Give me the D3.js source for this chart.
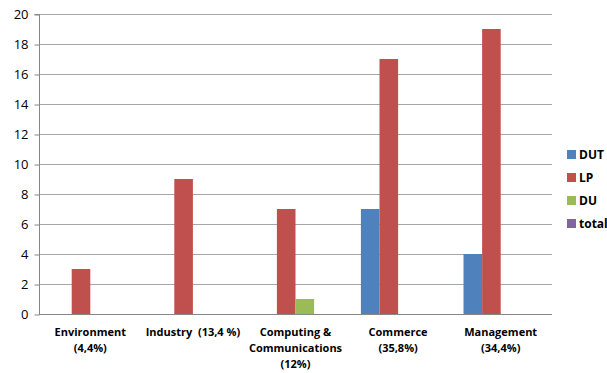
<!DOCTYPE html>
<html>
<head>
<meta charset="utf-8">
<script src="https://cdn.jsdelivr.net/npm/d3@7"></script>
<style>
  body { margin: 0; background: #fff; }
  text { font-family: "Open Sans", "Liberation Sans", sans-serif; white-space: pre; }
</style>
</head>
<body>
<svg id="chart" width="607" height="373"></svg>
<script>
// Chart data
var categories = [
	["Environment", "(4,4%)"],
	["Industry  (13,4 %)"],
	["Computing &", "Communications", "(12%)"],
	["Commerce", "(35,8%)"],
	["Management", "(34,4%)"]
];
var seriesNames = ["DUT", "LP", "DU", "total"];
var seriesColors = ["#4F81BD", "#C0504D", "#9BBB59", "#8064A2"];
var dutValues = [0, 0, 0, 7, 4];
var lpValues = [3, 9, 7, 17, 19];
var duValues = [0, 0, 1, 0, 0];
var totalValues = [0, 0, 0, 0, 0];
var yTicks = [0, 2, 4, 6, 8, 10, 12, 14, 16, 18, 20];

var seriesValues = [dutValues, lpValues, duValues, totalValues];

var svg = d3.select("#chart");
var plotLeft = 39, plotRight = 552, plotTop = 14, plotBottom = 314;

var x = d3.scaleBand()
	.domain(d3.range(categories.length))
	.range([plotLeft, plotRight])
	.paddingInner(0.275)
	.paddingOuter(0.1375);

var xs = d3.scaleBand()
	.domain(seriesNames)
	.range([0, x.bandwidth()]);

var y = d3.scaleLinear().domain([0, 20]).range([plotBottom, plotTop]);

// Gridlines
svg.append("g").selectAll("line")
	.data(yTicks.slice(1))
	.enter().append("line")
	.attr("x1", plotLeft).attr("x2", plotRight)
	.attr("y1", function(d) { return y(d) + 0.5; })
	.attr("y2", function(d) { return y(d) + 0.5; })
	.attr("stroke", "#a6a6a6")
	.attr("stroke-width", 1);

// Bars
seriesNames.forEach(function(name, s) {
	svg.append("g").selectAll("rect")
		.data(seriesValues[s].map(function(v, i) { return { v: v, i: i }; }).filter(function(d) { return d.v > 0; }))
		.enter().append("rect")
		.attr("x", function(d) { return x(d.i) + xs(name); })
		.attr("width", xs.bandwidth())
		.attr("y", function(d) { return y(d.v); })
		.attr("height", function(d) { return y(0) - y(d.v); })
		.attr("fill", seriesColors[s]);
});

// Y axis
var yAxis = d3.axisLeft(y).tickValues(yTicks).tickSize(5).tickPadding(6);
var gy = svg.append("g")
	.attr("transform", "translate(" + (plotLeft + 0.5) + ",0)")
	.call(yAxis);
gy.select(".domain").attr("stroke", "#868686").attr("d", "M-5," + (plotTop + 0.5) + "H0V" + (plotBottom + 0.5));
gy.selectAll(".tick line").attr("stroke", "#868686").attr("transform", "translate(0,0.5)");
gy.selectAll(".tick text")
	.style("font-family", "'Open Sans', sans-serif")
	.style("font-size", "13px")
	.attr("fill", "#000");

// X axis line
svg.append("line")
	.attr("x1", plotLeft).attr("x2", plotRight)
	.attr("y1", plotBottom + 0.5).attr("y2", plotBottom + 0.5)
	.attr("stroke", "#868686");

// Category labels
svg.append("g").selectAll("text")
	.data(categories)
	.enter().append("text")
	.attr("text-anchor", "middle")
	.attr("font-size", "11px")
	.attr("font-weight", "bold")
	.attr("fill", "#000")
	.each(function(lines, i) {
		d3.select(this).selectAll("tspan")
			.data(lines)
			.enter().append("tspan")
			.attr("x", x(i) + x.bandwidth() / 2)
			.attr("y", function(d, j) { return 336 + j * 16; })
			.text(function(d) { return d; });
	});

// Legend
var legend = svg.append("g").selectAll("g")
	.data(seriesNames)
	.enter().append("g")
	.attr("transform", function(d, i) { return "translate(567," + (150 + i * 23) + ")"; });
legend.append("rect")
	.attr("width", 9).attr("height", 9)
	.attr("fill", function(d, i) { return seriesColors[i]; });
legend.append("text")
	.attr("x", 12).attr("y", 9)
	.attr("font-size", "12px")
	.attr("font-weight", "bold")
	.text(function(d) { return d; });
</script>
</body>
</html>
